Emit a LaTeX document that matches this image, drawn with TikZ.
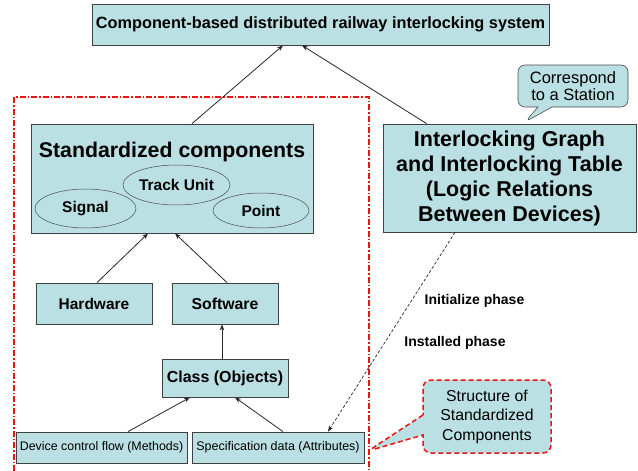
\documentclass[tikz,border=0pt]{standalone}
\usepackage{fontspec}
\setmainfont{Liberation Sans}
\usetikzlibrary{arrows.meta,shapes.geometric,shapes.callouts,shadows,calc}
\definecolor{boxblue}{RGB}{187,224,227}
\definecolor{redline}{RGB}{235,20,20}
\begin{document}
\begin{tikzpicture}[x=1pt,y=-1pt,
  box/.style={draw=black!75, line width=0.8pt, fill=boxblue, inner sep=0pt,
    drop shadow={shadow xshift=1pt, shadow yshift=-1pt, fill=black!70, opacity=1}},
  ell/.style={ellipse, draw=black!70, line width=0.5pt, inner sep=0pt, font=\bfseries\fontsize{15.5}{18}\selectfont},
  arr/.style={-{Stealth[length=6pt,width=4.5pt]}, line width=0.8pt, black!85},
  bold/.style={font=\bfseries\fontsize{#1}{#1}\selectfont},
]
\useasboundingbox (0,0) rectangle (638,471);

% red dash-dot frame
\draw[redline, line width=1.3pt, dash pattern=on 6pt off 2pt on 1.5pt off 2pt]
  (14,471) -- (14,97) -- (369,97) -- (369,471);

% top box
\node[box, minimum width=457pt, minimum height=41pt, bold=16.3] (top) at (320.5,24.5)
  {Component-based distributed railway interlocking system};

% standardized components
\node[box, minimum width=282pt, minimum height=109pt] (std) at (172,178.5) {};
\node[bold=21.3, inner sep=0pt] (stdtitle) at (172,152) {Standardized components};
\node[ell, minimum width=101pt, minimum height=39pt] (signal) at (85.5,208.5) {Signal};
\node[ell, minimum width=107pt, minimum height=40pt] (track) at (176.5,185) {Track Unit};
\node[ell, minimum width=96pt, minimum height=35pt] (point) at (261,210.5) {Point};

% lower boxes
\node[box, minimum width=116pt, minimum height=41pt, bold=15.5] (hw) at (94,303.5) {Hardware};
\node[box, minimum width=106pt, minimum height=41pt, bold=15.8] (sw) at (225,303.5) {Software};
\node[box, minimum width=126pt, minimum height=38pt, bold=16] (cls) at (225,378) {Class (Objects)};
\node[box, minimum width=171pt, minimum height=31pt, font=\fontsize{12.4}{14}\selectfont] (dev) at (101.5,447.5) {Device control flow (Methods)};
\node[box, minimum width=172pt, minimum height=31pt, font=\fontsize{12.5}{14}\selectfont] (spec) at (278,447.5) {Specification data (Attributes)};

% interlocking box
\node[box, minimum width=253pt, minimum height=108pt, align=center,
  font=\bfseries\fontsize{21.5}{25}\selectfont] (il) at (509.5,178)
  {Interlocking Graph\\and Interlocking Table\\(Logic Relations\\Between Devices)};

% callouts
\node[rectangle callout, rounded corners=7pt, draw=black!70, line width=0.6pt, fill=boxblue,
  minimum width=110pt, minimum height=42pt, inner sep=0pt, align=center,
  callout absolute pointer={(525,122)}, callout pointer width=14pt,
  font=\fontsize{16.5}{17.5}\selectfont] (corr) at (573,86) {Correspond\\to a Station};

\node[rectangle callout, rounded corners=8pt, draw=redline, line width=1.5pt,
  dash pattern=on 5pt off 3pt, fill=boxblue,
  minimum width=128pt, minimum height=73pt, inner sep=0pt, align=center,
  callout absolute pointer={(368,451)}, callout pointer width=20pt,
  font=\fontsize{15.8}{19.5}\selectfont] (struct) at (487,416.5)
  {Structure of\\Standardized\\Components};

% phase labels
\node[bold=14, inner sep=0pt] (init) at (474.5,301) {Initialize phase};
\node[bold=14, inner sep=0pt] (inst) at (455,343) {Installed phase};

% connectors
\draw[arr] ([xshift=20pt]std.north) -- ([xshift=-37.5pt]top.south);
\draw[arr] ([xshift=44pt]il.north west) -- ([xshift=-18.5pt]top.south);
\draw[arr] ([xshift=3pt]hw.north) -- ([xshift=-24pt]std.south);
\draw[arr] ([xshift=2pt]sw.north) -- ([xshift=3pt]std.south);
\draw[arr] ([xshift=-3pt]cls.north) -- ([xshift=-3pt]sw.south);
\draw[arr] ([xshift=26.5pt]dev.north) -- ([xshift=-35pt]cls.south);
\draw[arr] ([xshift=5pt]spec.north) -- ([xshift=10pt]cls.south);
\draw[arr, line width=0.7pt, dash pattern=on 3pt off 2pt] ([xshift=-54.5pt]il.south) -- ([xshift=50pt]spec.north);
\end{tikzpicture}
\end{document}
